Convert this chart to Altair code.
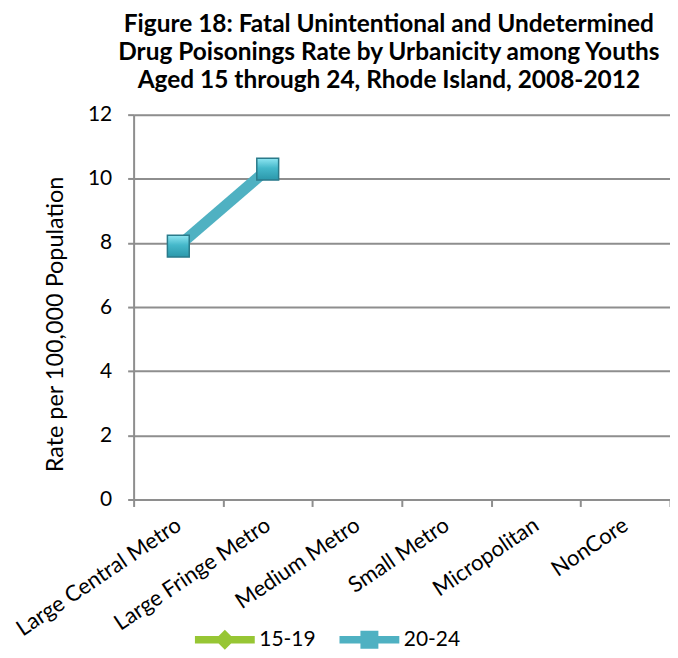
import altair as alt
import pandas as pd

categories = ["Large Central Metro", "Large Fringe Metro", "Medium Metro",
              "Small Metro", "Micropolitan", "NonCore"]
series_names = ["15-19", "20-24"]
rate_15_19 = [None, None, None, None, None, None]
rate_20_24 = [7.9, 10.3, None, None, None, None]
y_ticks = [0, 2, 4, 6, 8, 10, 12]

rows = []
for s, vals in zip(series_names, [rate_15_19, rate_20_24]):
    for c, v in zip(categories, vals):
        rows.append({"Urbanicity": c, "Series": s, "Rate": v})
df = pd.DataFrame(rows)

FONT = "Lato"
TEAL = "#4FB1C2"
GREEN = "#97C634"
GRID = "#8E8E8E"

x_enc = alt.X("Urbanicity:N", sort=categories,
              scale=alt.Scale(domain=categories, paddingInner=0, paddingOuter=0),
              axis=alt.Axis(title=None, labelAngle=-34, labelAlign="right",
                            labelBaseline="middle", labelPadding=16,
                            labelFontSize=22, labelFont=FONT, labelColor="#000",
                            tickBand="extent", ticks=True, tickSize=7,
                            tickColor=GRID, tickWidth=2, domainColor=GRID,
                            domainWidth=2, grid=False, labelLimit=300))
y_enc = alt.Y("Rate:Q", scale=alt.Scale(domain=[0, 12], nice=False),
              axis=alt.Axis(title="Rate per 100,000 Population", values=y_ticks,
                            titleFont=FONT, titleFontSize=23.5, titleFontWeight="normal",
                            titleColor="#000", titleX=-78, titleY=210,
                            titleAngle=-90, titleAlign="center", titleBaseline="middle",
                            labelFont=FONT, labelFontSize=21, labelColor="#000",
                            labelPadding=16, tickSize=6, tickColor=GRID, tickWidth=2,
                            domainColor=GRID, domainWidth=2,
                            grid=True, gridColor=GRID, gridWidth=2))

base = alt.Chart(df).transform_filter("isValid(datum.Rate)")

line = base.transform_filter("datum.Series == '20-24'").mark_line(
    strokeWidth=11, color=TEAL, opacity=1
).encode(x=x_enc, y=y_enc, detail="Series:N")

marker_fill = alt.Gradient(
    gradient="linear",
    stops=[alt.GradientStop(color="#8FE6F2", offset=0),
           alt.GradientStop(color="#45B8CA", offset=0.45),
           alt.GradientStop(color="#2B97AA", offset=1)],
    x1=0, x2=0, y1=0, y2=1)

points = base.transform_filter("datum.Series == '20-24'").mark_point(
    shape="square", size=480, filled=True, fill=marker_fill, stroke="#2A7A8A",
    strokeWidth=1.5, opacity=1
).encode(x=x_enc, y=y_enc)

diamond_path = "M-3,-0.38L3,-0.38L3,0.38L-3,0.38Z M0,-1L1,0L0,1L-1,0Z"
square_path = "M-3,-0.38L3,-0.38L3,0.38L-3,0.38Z M-0.9,-0.9L0.9,-0.9L0.9,0.9L-0.9,0.9Z"

legend_layer = alt.Chart(df).transform_filter("false").mark_point(
    filled=True, opacity=1
).encode(
    x=x_enc, y=y_enc,
    color=alt.Color("Series:N", scale=alt.Scale(domain=series_names, range=[GREEN, TEAL]),
                    legend=alt.Legend(title=None, orient="none", direction="horizontal",
                                      legendX=81, legendY=516,
                                      symbolOpacity=1, symbolSize=400, symbolStrokeWidth=0,
                                      labelOffset=24, columnPadding=23,
                                      labelFont=FONT, labelFontSize=21, labelColor="#000")),
    shape=alt.Shape("Series:N", scale=alt.Scale(domain=series_names,
                                                range=[diamond_path, square_path]))
)

chart = alt.layer(line, points, legend_layer).properties(
    width=538, height=386,
    title=alt.TitleParams(
        text=["Figure 18: Fatal Unintentional and Undetermined",
              "Drug Poisonings Rate by Urbanicity among Youths",
              "Aged 15 through 24, Rhode Island, 2008-2012"],
        font=FONT, fontSize=24.5, fontWeight="bold", color="#000",
        anchor="middle", lineHeight=28, offset=10, dx=-13),
    autosize=alt.AutoSizeParams(type="none"),
    padding={"left": 126, "top": 106, "right": 0, "bottom": 150},
).configure_view(strokeWidth=0, fill="#F0F0F0").configure(background="#FFFFFF")

chart.save("out.html", embed_options={"renderer": "svg", "actions": False})
